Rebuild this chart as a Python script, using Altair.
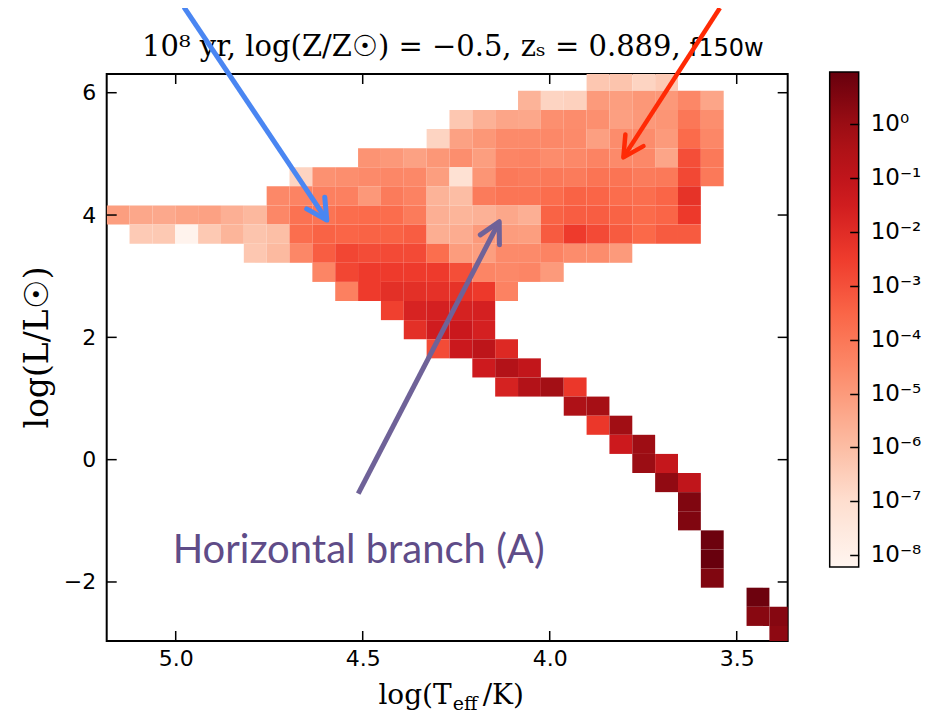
import altair as alt
import pandas as pd

# ---------------- axis limits (data units) ----------------
T_LIMITS = [3.3637, 5.1845]          # log(Teff/K), drawn reversed (hot on the left)
L_LIMITS = [-2.965, 6.306]           # log(L/Lsun)
X_TICKS = [5.0, 4.5, 4.0, 3.5]
Y_TICKS = [-2, 0, 2, 4, 6]
CBAR_TICKS = [-8, -7, -6, -5, -4, -3, -2, -1, 0]
CBAR_DOMAIN = [-8.22, 0.97]          # log10 of colour-bar range
REDS = ["#fff5f0", "#fee0d2", "#fcbba1", "#fc9272", "#fb6a4a",
        "#ef3b2c", "#cb181d", "#a50f15", "#67000d"]

# ---------------- histogram grid ----------------
T_EDGE0, T_STEP = 5.1845, 0.0611     # left edge of first column, bin width
L_EDGE_TOP, L_STEP = 6.344, 0.3125   # top edge of first row, bin height

# log10(value) per row (top row first): first filled column + values
row_start = [21, 18, 15, 14, 11, 8, 7, 0, 1, 6, 9, 10, 12, 13, 14, 16, 17, 20, 21, 22,
             23, 24, 25, 25, 26, 26, 26, 28, 28, 29]
row_values = [
    [-6.3, -6.2, -6.7, -6.4],
    [-5.7, -6.7, -6.6, -5.0, -5.1, -4.9, -4.95, -4.45, -5.3],
    [-6.3, -5.65, -5.3, -5.35, -4.7, -4.6, -4.7, -5.15, -4.95, -4.85, -4.0, -4.65],
    [-6.7, -5.2, -4.9, -4.55, -4.55, -4.5, -4.55, -5.15, -4.6, -4.6, -5.0, -3.65, -4.45],
    [-4.8, -4.95, -5.2, -4.9, -4.65, -5.1, -4.4, -4.35, -4.6, -4.5, -4.35, -4.55, -4.5,
     -5.3, -2.95, -4.05],
    [-6.7, -4.75, -4.65, -4.55, -4.45, -4.5, -5.1, -7.1, -4.85, -4.05, -4.15, -4.05, -4.1,
     -3.9, -3.9, -4.1, -4.05, -2.8, -4.05],
    [-4.5, -4.35, -4.25, -4.25, -4.95, -4.1, -4.3, -5.7, -6.0, -4.1, -3.95, -3.95, -3.7,
     -3.45, -3.5, -3.7, -3.75, -3.5, -2.2],
    [-5.1, -5.35, -5.4, -5.25, -5.2, -5.6, -5.85, -4.45, -3.85, -3.9, -3.7, -3.65, -3.7,
     -4.1, -5.6, -5.75, -5.65, -5.35, -5.6, -3.45, -3.3, -3.3, -3.45, -3.65, -3.5, -2.4],
    [-6.4, -6.35, -8.1, -6.35, -5.75, -6.2, -6.05, -3.75, -3.45, -3.5, -3.45, -3.45, -3.3,
     -5.55, -5.5, -5.0, -5.05, -5.1, -3.25, -2.45, -2.85, -3.25, -3.6, -3.25, -3.25],
    [-6.3, -5.9, -4.45, -3.3, -2.75, -2.9, -2.85, -2.85, -3.75, -5.05, -5.1, -4.55, -4.55,
     -4.35, -4.6, -4.6, -5.0],
    [-4.4, -2.75, -2.45, -2.45, -2.45, -2.45, -2.95, -4.4, -4.5, -4.4, -5.0],
    [-4.25, -2.45, -2.1, -2.1, -2.15, -2.2, -2.4, -4.3],
    [-2.6, -1.7, -1.6, -1.65, -1.6],
    [-2.1, -1.45, -1.3, -1.6],
    [-2.9, -1.3, -0.9, -1.9],
    [-1.4, -0.6, -1.05],
    [-1.65, -0.6, -0.15, -2.35],
    [-0.45, -0.2],
    [-2.35, -0.1],
    [-1.35, -0.05],
    [0.0, -1.15],
    [0.2, -1.0],
    [0.5],
    [0.5],
    [0.85],
    [0.95],
    [0.5],
    [0.85],
    [0.35, 0.4],
    [0.25],
]

# ---------------- annotation arrows (data units) ----------------
arrow_name = ["blue", "red", "purple"]
arrow_tail_T = [4.978, 3.545, 4.512]
arrow_tail_L = [7.40, 7.386, -0.554]
arrow_head_T = [4.596, 3.803, 4.135]
arrow_head_L = [3.917, 4.943, 3.890]
arrow_color = ["#4a86f2", "#ff2a05", "#6f6298"]
arrow_width = [5, 4.5, 5]
arrow_angle = [57.0, 122.9, 297.4]

# ---------------- build tables ----------------
cells = []
for r, (c0, vals) in enumerate(zip(row_start, row_values)):
    for k, v in enumerate(vals):
        c = c0 + k
        t_hi = T_EDGE0 - c * T_STEP
        l_hi = L_EDGE_TOP - r * L_STEP
        cells.append({"Thi": t_hi, "Tlo": t_hi - T_STEP, "Lhi": l_hi, "Llo": l_hi - L_STEP, "v": v})
cells = pd.DataFrame(cells)

arrows = pd.DataFrame({
    "name": arrow_name, "T0": arrow_tail_T, "L0": arrow_tail_L,
    "T1": arrow_head_T, "L1": arrow_head_L, "color": arrow_color,
    "w": arrow_width, "ang": arrow_angle,
})

W, H = 681, 567
xscale = alt.Scale(domain=T_LIMITS, reverse=True, nice=False, zero=False)
yscale = alt.Scale(domain=L_LIMITS, nice=False, zero=False)

AX = alt.Axis(values=X_TICKS, format=".1f", ticks=False, domain=False, grid=False,
              labelFont="DejaVu Sans", labelFontSize=22, labelColor="black",
              labelPadding=8, title=None)
AY = alt.Axis(values=Y_TICKS, format="d", ticks=False, domain=False, grid=False,
              labelFont="DejaVu Sans", labelFontSize=22, labelColor="black",
              labelPadding=11, title=None)

sup = str.maketrans("0123456789-", "⁰¹²³⁴⁵⁶⁷⁸⁹⁻")
label_expr = ""
for t in CBAR_TICKS:
    label_expr += f"datum.value == {t} ? '10{str(t).translate(sup)}' : "
label_expr += "''"

n = len(REDS)
color_domain = [CBAR_DOMAIN[0] + (CBAR_DOMAIN[1] - CBAR_DOMAIN[0]) * i / (n - 1) for i in range(n)]

# colour-bar geometry (pixels, relative to the plot origin)
CB_X, CB_Y, CB_LEN, CB_THICK = 723, -2, 495, 29

heat = alt.Chart(cells).mark_rect(clip=True).encode(
    x=alt.X("Thi:Q", scale=xscale, axis=AX),
    x2="Tlo:Q",
    y=alt.Y("Lhi:Q", scale=yscale, axis=AY),
    y2="Llo:Q",
    color=alt.Color("v:Q", scale=alt.Scale(domain=color_domain, range=REDS, interpolate="rgb"),
                    legend=alt.Legend(
        orient="none", legendX=CB_X, legendY=CB_Y, direction="vertical", zindex=0,
        gradientLength=CB_LEN, gradientThickness=CB_THICK, gradientStrokeColor="black",
        gradientStrokeWidth=1.5, values=CBAR_TICKS, labelExpr=label_expr,
        labelFont="DejaVu Sans", labelFontSize=23, labelColor="black",
        labelOffset=12, title=None)),
)

tick_rule = dict(color="black", strokeWidth=1.5)
xt = pd.DataFrame({"t": X_TICKS})
yt = pd.DataFrame({"t": Y_TICKS})
bottom_ticks = alt.Chart(xt).mark_rule(**tick_rule).encode(
    x=alt.X("t:Q", scale=xscale, axis=AX), y=alt.value(H), y2=alt.value(H - 10))
top_ticks = alt.Chart(xt).mark_rule(**tick_rule).encode(
    x=alt.X("t:Q", scale=xscale, axis=AX), y=alt.value(0), y2=alt.value(10))
left_ticks = alt.Chart(yt).mark_rule(**tick_rule).encode(
    y=alt.Y("t:Q", scale=yscale, axis=AY), x=alt.value(0), x2=alt.value(10))
right_ticks = alt.Chart(yt).mark_rule(**tick_rule).encode(
    y=alt.Y("t:Q", scale=yscale, axis=AY), x=alt.value(W), x2=alt.value(W - 10))

one = pd.DataFrame({"a": [0]})
title_math = alt.Chart(one).mark_text(
    font="DejaVu Serif", fontSize=29, align="right", baseline="alphabetic", color="black"
).encode(x=alt.value(574), y=alt.value(-18),
         text=alt.value("10⁸ yr,  log(Z/Z☉)  =  −0.5,  zₛ  =  0.889,"))
title_band = alt.Chart(one).mark_text(
    font="DejaVu Sans", fontSize=24, align="left", baseline="alphabetic", color="black"
).encode(x=alt.value(583), y=alt.value(-18), text=alt.value("f150w"))

ylab = alt.Chart(one).mark_text(
    font="DejaVu Serif", fontSize=33, angle=270, align="center", baseline="middle", color="black"
).encode(x=alt.value(-69), y=alt.value(H / 2 - 10), text=alt.value("log(L/L☉)"))
xlab1 = alt.Chart(one).mark_text(
    font="DejaVu Serif", fontSize=28, align="right", baseline="alphabetic", color="black"
).encode(x=alt.value(345), y=alt.value(630), text=alt.value("log(T"))
xlab2 = alt.Chart(one).mark_text(
    font="DejaVu Serif", fontSize=19, align="left", baseline="alphabetic", color="black"
).encode(x=alt.value(346), y=alt.value(636), text=alt.value("eff"))
xlab3 = alt.Chart(one).mark_text(
    font="DejaVu Serif", fontSize=28, align="left", baseline="alphabetic", color="black"
).encode(x=alt.value(376), y=alt.value(630), text=alt.value("/K)"))

hb_text = alt.Chart(one).mark_text(
    font="Lato", fontSize=40, align="left", baseline="alphabetic", color="#5f4c88"
).encode(x=alt.value(66), y=alt.value(489), text=alt.value("Horizontal branch (A)"))

arrow_lines = alt.Chart(arrows).mark_rule(strokeCap="butt").encode(
    x=alt.X("T0:Q", scale=xscale, axis=AX), y=alt.Y("L0:Q", scale=yscale, axis=AY),
    x2="T1:Q", y2="L1:Q",
    color=alt.Color("color:N", scale=None),
    strokeWidth=alt.StrokeWidth("w:Q", scale=None),
)
arrow_heads = alt.Chart(arrows).mark_point(
    shape="M-1,-0.53L0,0L-1,0.53", filled=False, size=1650, strokeJoin="round", strokeCap="round", opacity=1
).encode(
    x=alt.X("T1:Q", scale=xscale, axis=AX), y=alt.Y("L1:Q", scale=yscale, axis=AY),
    color=alt.Color("color:N", scale=None),
    strokeWidth=alt.StrokeWidth("w:Q", scale=None),
    angle=alt.Angle("ang:Q", scale=None),
)

main = alt.layer(
    heat, bottom_ticks, top_ticks, left_ticks, right_ticks, title_math, title_band,
    ylab, xlab1, xlab2, xlab3, hb_text, arrow_lines, arrow_heads
)

# colour-bar tick marks: an unlabelled right axis whose scale matches the gradient
px_per_unit = CB_LEN / (CBAR_DOMAIN[1] - CBAR_DOMAIN[0])
cb_scale = alt.Scale(domain=[CBAR_DOMAIN[1] - (H - CB_Y) / px_per_unit,
                             CBAR_DOMAIN[1] + CB_Y / px_per_unit],
                     nice=False, zero=False)
cb_axis = alt.Axis(orient="right", values=CBAR_TICKS, labels=False, domain=False, grid=False,
                   ticks=True, tickSize=9, tickWidth=1.5, tickColor="black",
                   offset=CB_X + CB_THICK - 9 - W, zindex=2, title=None)
cb_ticks = alt.Chart(pd.DataFrame({"v": CBAR_TICKS})).mark_point(opacity=0).encode(
    y=alt.Y("v:Q", scale=cb_scale, axis=cb_axis), x=alt.value(0))

chart = alt.layer(main, cb_ticks).resolve_scale(y="independent").resolve_axis(
    y="independent"
).properties(
    width=W, height=H,
    autosize=alt.AutoSizeParams(type="none"),
    padding={"left": 98.7, "top": 66, "right": 135, "bottom": 78},
).configure_view(stroke="black", strokeWidth=2)

chart.save("out.html", embed_options={"renderer": "svg", "actions": False})
